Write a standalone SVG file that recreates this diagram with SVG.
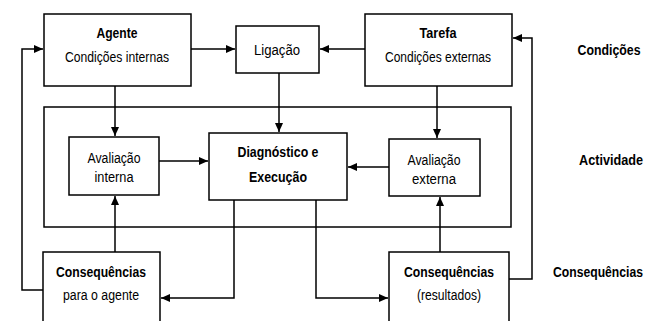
<svg xmlns="http://www.w3.org/2000/svg" width="659" height="321" viewBox="0 0 659 321">
<style>
.box{fill:#fff;stroke:#000;stroke-width:1.5}
.ln{fill:none;stroke:#000;stroke-width:1.5}
.t{font-family:"Liberation Sans",Arial,sans-serif;font-size:15.5px;text-anchor:middle;fill:#000}
.b{font-weight:bold}
</style>
<defs>
<marker id="ah" markerUnits="userSpaceOnUse" markerWidth="10" markerHeight="10" refX="9" refY="4" orient="auto">
<path d="M0,0 L9,4 L0,8 Z" fill="#000"/>
</marker>
</defs>
<rect width="659" height="321" fill="#fff"/>
<g id="actividade-frame"><rect class="box" x="44" y="107" width="467" height="120" fill="none"/></g>
<g id="agente">
<rect class="box" x="44" y="14" width="147" height="72"/>
<text class="t b" x="117" y="38" textLength="41" lengthAdjust="spacingAndGlyphs">Agente</text>
<text class="t" x="117" y="62" textLength="104" lengthAdjust="spacingAndGlyphs">Condições internas</text>
</g>
<g id="ligacao">
<rect class="box" x="236" y="26" width="83" height="47"/>
<text class="t" x="277" y="55" textLength="46" lengthAdjust="spacingAndGlyphs">Ligação</text>
</g>
<g id="tarefa">
<rect class="box" x="365" y="14" width="147" height="72"/>
<text class="t b" x="438" y="38" textLength="37" lengthAdjust="spacingAndGlyphs">Tarefa</text>
<text class="t" x="438" y="62" textLength="106" lengthAdjust="spacingAndGlyphs">Condições externas</text>
</g>
<g id="avaliacao-interna">
<rect class="box" x="69" y="137" width="90" height="58"/>
<text class="t" x="114" y="163" textLength="53" lengthAdjust="spacingAndGlyphs">Avaliação</text>
<text class="t" x="114" y="182" textLength="39" lengthAdjust="spacingAndGlyphs">interna</text>
</g>
<g id="diagnostico">
<rect class="box" x="209" y="133" width="138" height="67"/>
<text class="t b" x="278" y="157" textLength="81" lengthAdjust="spacingAndGlyphs">Diagnóstico e</text>
<text class="t b" x="278" y="182" textLength="58" lengthAdjust="spacingAndGlyphs">Execução</text>
</g>
<g id="avaliacao-externa">
<rect class="box" x="389" y="139" width="91" height="57"/>
<text class="t" x="434" y="165" textLength="53" lengthAdjust="spacingAndGlyphs">Avaliação</text>
<text class="t" x="434" y="184" textLength="44" lengthAdjust="spacingAndGlyphs">externa</text>
</g>
<g id="consequencias-agente">
<rect class="box" x="43" y="252" width="117" height="80"/>
<text class="t b" x="101" y="277" textLength="90" lengthAdjust="spacingAndGlyphs">Consequências</text>
<text class="t" x="101" y="300" textLength="76" lengthAdjust="spacingAndGlyphs">para o agente</text>
</g>
<g id="consequencias-resultados">
<rect class="box" x="389" y="252" width="120" height="80"/>
<text class="t b" x="449" y="277" textLength="90" lengthAdjust="spacingAndGlyphs">Consequências</text>
<text class="t" x="449" y="300" textLength="64" lengthAdjust="spacingAndGlyphs">(resultados)</text>
</g>
<g id="labels">
<text class="t b" x="609" y="55" textLength="63" lengthAdjust="spacingAndGlyphs">Condições</text>
<text class="t b" x="611" y="165" textLength="64" lengthAdjust="spacingAndGlyphs">Actividade</text>
<text class="t b" x="598" y="277" textLength="90" lengthAdjust="spacingAndGlyphs">Consequências</text>
</g>
<g id="connectors">
<path class="ln" d="M191,49 H235" marker-end="url(#ah)"/>
<path class="ln" d="M365,49 H320" marker-end="url(#ah)"/>
<path class="ln" d="M115,86 V136" marker-end="url(#ah)"/>
<path class="ln" d="M279,73 V132" marker-end="url(#ah)"/>
<path class="ln" d="M437,86 V138" marker-end="url(#ah)"/>
<path class="ln" d="M159,161 H208" marker-end="url(#ah)"/>
<path class="ln" d="M389,167 H348" marker-end="url(#ah)"/>
<path class="ln" d="M115,252 V196" marker-end="url(#ah)"/>
<path class="ln" d="M440,252 V197" marker-end="url(#ah)"/>
<path class="ln" d="M234,200 V298 H161" marker-end="url(#ah)"/>
<path class="ln" d="M316,200 V298 H388" marker-end="url(#ah)"/>
<path class="ln" d="M43,290 H22 V49 H43" marker-end="url(#ah)"/>
<path class="ln" d="M509,279 H532 V38 H513" marker-end="url(#ah)"/>
</g>
</svg>
